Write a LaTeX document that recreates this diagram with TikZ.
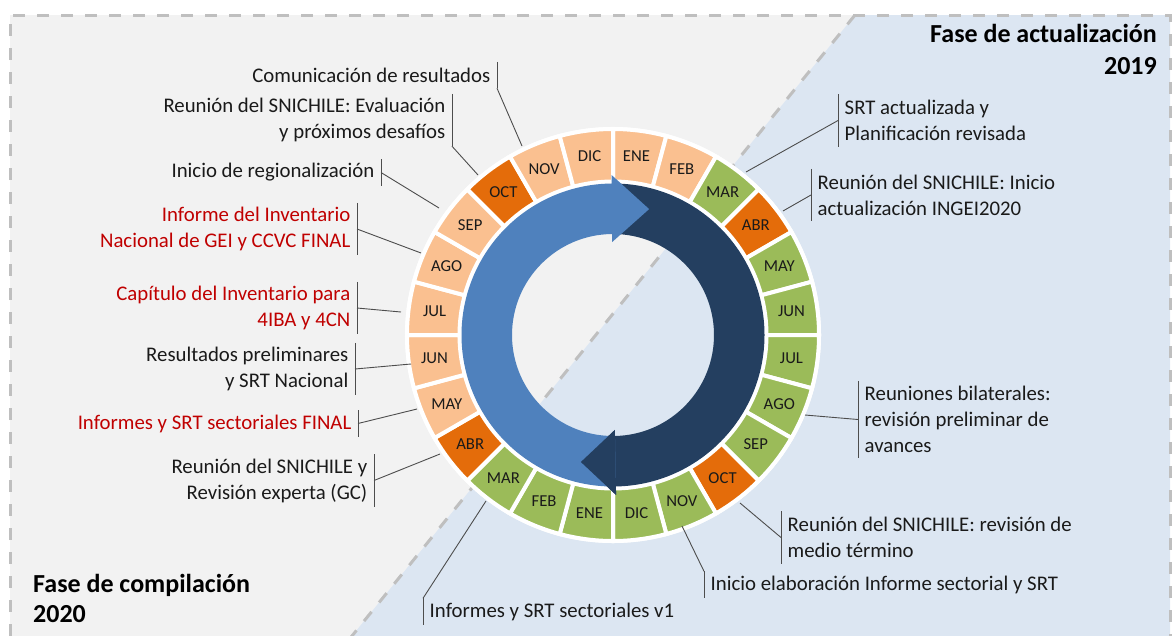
\documentclass[tikz,border=0pt]{standalone}
\usepackage{fontspec}
\setmainfont{Carlito}
\definecolor{lo}{HTML}{FAC090}
\definecolor{dor}{HTML}{E46C0A}
\definecolor{gr}{HTML}{9BBB59}
\definecolor{blueA}{HTML}{4F81BD}
\definecolor{navy}{HTML}{243F60}
\definecolor{bggray}{HTML}{F2F2F2}
\definecolor{bgblue}{HTML}{DCE6F2}
\definecolor{dashgray}{HTML}{BFBFBF}
\definecolor{txt}{HTML}{1A1A1A}
\definecolor{redtxt}{HTML}{C00000}
\definecolor{leadc}{HTML}{4D4D4D}
\tikzset{
  dashline/.style={draw=dashgray, line width=3pt, dash pattern=on 12pt off 12pt},
  month/.style={font=\fontsize{16.7}{18}\selectfont, text=txt, inner sep=0pt},
  lbl/.style={font=\fontsize{20.8}{26}\selectfont, text=txt, inner xsep=6.5pt, inner ysep=0pt},
  lblL/.style={lbl, anchor=east, align=right},
  lblR/.style={lbl, anchor=west, align=left},
  one/.style={minimum height=26pt},
  two/.style={minimum height=52pt},
  three/.style={minimum height=77pt},
  leader/.style={draw=leadc, line width=0.9pt},
  title/.style={font=\bfseries\fontsize{26}{32}\selectfont, text=black, inner sep=0pt}
}
\begin{document}
\begin{tikzpicture}[x=1pt,y=1pt]
\useasboundingbox (0,0) rectangle (1172,-635);
\clip (0,0) rectangle (1172,-635);
% background
\fill[bggray] (10,-15) rectangle (1170,-660);
\fill[bgblue] (855,-15) -- (1170,-15) -- (1170,-660) -- (332.5,-660) -- cycle;
\draw[dashline] (10,-660) -- (10,-15) -- (1170,-15) -- (1170,-660);
\draw[dashline] (855,-15) -- (332.5,-660);
% ring
\begin{scope}[shift={(613,-335)}]
\fill[white, even odd rule] (0,0) circle[radius=208] circle[radius=151.5];
\foreach \i/\m/\c in {0/ENE/lo,1/FEB/lo,2/MAR/gr,3/ABR/dor,4/MAY/gr,5/JUN/gr,6/JUL/gr,7/AGO/gr,8/SEP/gr,9/OCT/dor,10/NOV/gr,11/DIC/gr,
  12/ENE/gr,13/FEB/gr,14/MAR/gr,15/ABR/dor,16/MAY/lo,17/JUN/lo,18/JUL/lo,19/AGO/lo,20/SEP/lo,21/OCT/dor,22/NOV/lo,23/DIC/lo}{
  \pgfmathsetmacro\a{90-15*\i}
  \pgfmathsetmacro\b{\a-15}
  \pgfmathsetmacro\mi{\a-7.5}
  \filldraw[fill=\c, draw=white, line width=4pt] (\a:153.5) arc[start angle=\a, end angle=\b, radius=153.5] -- (\b:206) arc[start angle=\b, end angle=\a, radius=206] -- cycle;
  \node[month] (m\i) at (\mi:180) {\m};
}
% arrows
\fill[navy] (90:151.5) arc[start angle=90, end angle=-88.9, radius=151.5] -- (-88.9:160) -- (-104.2:131) -- (-88.9:95) -- (-88.9:101) arc[start angle=-88.9, end angle=90, radius=101] -- cycle;
\fill[blueA] (271.1:151.5) arc[start angle=271.1, end angle=90.5, radius=151.5] -- (90.5:160) -- (74:131) -- (90.5:93) -- (90.5:101) arc[start angle=90.5, end angle=271.1, radius=101] -- cycle;
\fill[navy] (-88.9:160) -- (-104.2:131) -- (-88.9:95) -- cycle;
\end{scope}
% leader targets
\coordinate (t1) at (522,-146);
\coordinate (t2) at (478,-175);
\coordinate (t3) at (439,-208);
\coordinate (t4) at (421,-253);
\coordinate (t5) at (401,-312);
\coordinate (t6) at (411,-364);
\coordinate (t7) at (417,-409);
\coordinate (t8) at (440,-454);
\coordinate (t9) at (486,-501);
\coordinate (t10) at (746,-172);
\coordinate (t11) at (783,-211);
\coordinate (t12) at (805,-415);
\coordinate (t13) at (740,-503);
\coordinate (t14) at (682,-526);
% labels
\node[lblL, one] (l1) at (497,-75) {Comunicación de resultados};
\node[lblL, two] (l2) at (452,-120) {Reunión del SNICHILE: Evaluación\\y próximos desafíos};
\node[lblL, one] (l3) at (381,-172.5) {Inicio de regionalización};
\node[lblL, two, text=redtxt] (l4) at (357,-229) {Informe del Inventario\\Nacional de GEI y CCVC FINAL};
\node[lblL, two, text=redtxt] (l5) at (357,-308) {Capítulo del Inventario para\\4IBA y 4CN};
\node[lblL, two] (l6) at (355,-369) {Resultados preliminares\\y SRT Nacional};
\node[lblL, one, text=redtxt] (l7) at (358,-423.5) {Informes y SRT sectoriales FINAL};
\node[lblL, two] (l8) at (374,-480.5) {Reunión del SNICHILE y\\Revisión experta (GC)};
\node[lblR, one] (l9) at (423,-611.5) {Informes y SRT sectoriales v1};
\node[lblR, two] (l10) at (838,-120.5) {SRT actualizada y\\Planificación revisada};
\node[lblR, two] (l11) at (811,-195) {Reunión del SNICHILE: Inicio\\actualización INGEI2020};
\node[lblR, three] (l12) at (858,-419.5) {Reuniones bilaterales:\\revisión preliminar de\\avances};
\node[lblR, two] (l13) at (781,-537.5) {Reunión del SNICHILE: revisión de\\medio término};
\node[lblR, one] (l14) at (704,-584.5) {Inicio elaboración Informe sectorial y SRT};
% bars
\foreach \n in {l1,l2,l3,l4,l5,l6,l7,l8}{\draw[leader] (\n.north east) -- (\n.south east);}
\foreach \n in {l9,l10,l11,l12,l13,l14}{\draw[leader] (\n.north west) -- (\n.south west);}
% leaders
\draw[leader] (l1.south east) -- (t1);
\draw[leader] (l2.south east) -- (t2);
\draw[leader] (l3.east) -- (t3);
\draw[leader] (l4.east) -- (t4);
\draw[leader] (l5.east) -- (t5);
\draw[leader] (l6.east) -- (t6);
\draw[leader] (l7.east) -- (t7);
\draw[leader] (l8.east) -- (t8);
\draw[leader] (l9.north west) -- (t9);
\draw[leader] (l10.west) -- (t10);
\draw[leader] (l11.west) -- (t11);
\draw[leader] (l12.west) -- (t12);
\draw[leader] (l13.west) -- (t13);
\draw[leader] (l14.north west) -- (t14);
% titles
\node[title, anchor=east, align=right] (ta) at (1157,-49) {Fase de actualización\\2019};
\node[title, anchor=west, align=left, font=\bfseries\fontsize{26}{30}\selectfont] (tc) at (33,-598.5) {Fase de compilación\\2020};
\end{tikzpicture}
\end{document}
